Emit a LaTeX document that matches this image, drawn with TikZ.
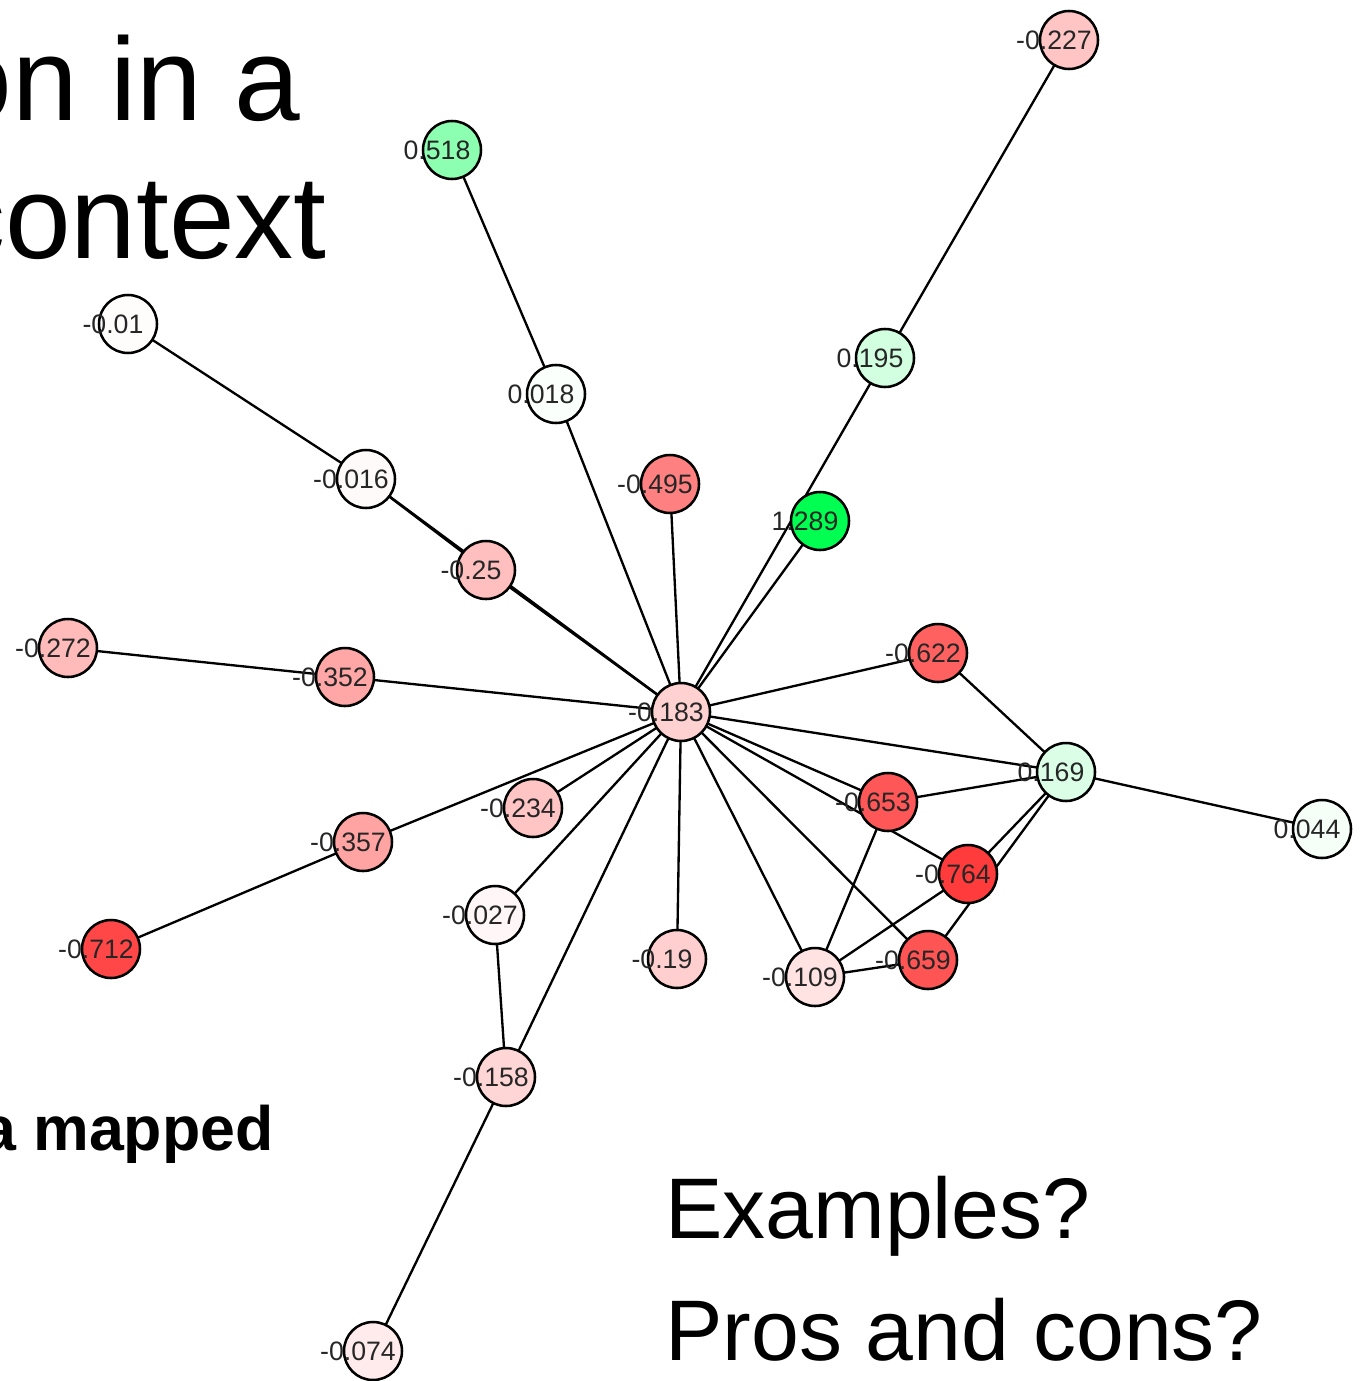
\documentclass[tikz,border=0pt]{standalone}
\usepackage{fontspec}
\setmainfont{Liberation Sans}
\usetikzlibrary{backgrounds}
\definecolor{vg}{RGB}{0,255,80}
\tikzset{
  vert/.style={circle, draw=black, line width=1.9pt, minimum size=43.5pt, inner sep=0pt},
  vlab/.style={inner sep=0pt, anchor=base, text=black!85, font=\fontsize{20}{21}\selectfont},
  edge/.style={draw=black, line width=1.75pt},
  bigtitle/.style={inner sep=0pt, anchor=base east, font=\fontsize{88.5}{90}\selectfont},
  boldtxt/.style={inner sep=0pt, anchor=base east, font=\fontsize{47}{48}\selectfont\bfseries},
  qtxt/.style={inner sep=0pt, anchor=base west, font=\fontsize{64.5}{66}\selectfont}
}
\newcommand\vtx[5]{%
  \node[vert, fill=#5] (#1) at (#2,#3) {};
  \node[vlab] (#1t) at (#2-15,#3+9.5) {#4};
}
\begin{document}
\begin{tikzpicture}[x=0.75pt,y=-0.75pt]
\useasboundingbox (0,0) rectangle (1363,1381);
\clip (0,0) rectangle (1363,1381);

% texts
\node[bigtitle] (t1) at (301,120) {on in a};
\node[bigtitle] (t2) at (327,258) {context};
\node[boldtxt] (t3) at (274,1150) {a mapped};
\node[qtxt] (t4) at (665,1238) {Examples?};
\node[qtxt] (t5) at (665,1360) {Pros and cons?};

% vertices
\vtx{n227}{1069}{40}{-0.227}{red!23!white}
\vtx{n518}{452}{150}{0.518}{vg!45!white}
\vtx{n195}{885}{358}{0.195}{vg!18!white}
\vtx{n01}{128}{324}{-0.01}{red!1!white}
\vtx{n018}{556}{394}{0.018}{vg!2!white}
\vtx{n016}{366}{479}{-0.016}{red!2!white}
\vtx{n495}{670}{484}{-0.495}{red!50!white}
\vtx{n289}{820}{521}{1.289}{vg}
\vtx{n25}{486}{570}{-0.25}{red!25!white}
\vtx{n272}{68}{648}{-0.272}{red!27!white}
\vtx{n352}{345}{677}{-0.352}{red!35!white}
\vtx{n622}{938}{653}{-0.622}{red!62!white}
\vtx{n183}{681}{712}{-0.183}{red!18!white}
\vtx{n169}{1066}{772}{0.169}{vg!14!white}
\vtx{n044}{1322}{829}{0.044}{vg!4!white}
\vtx{n653}{888}{802}{-0.653}{red!66!white}
\vtx{n234}{533}{808}{-0.234}{red!23!white}
\vtx{n357}{363}{842}{-0.357}{red!36!white}
\vtx{n764}{968}{874}{-0.764}{red!77!white}
\vtx{n027}{495}{915}{-0.027}{red!3!white}
\vtx{n712}{111}{949}{-0.712}{red!72!white}
\vtx{n19}{677}{959}{-0.19}{red!19!white}
\vtx{n109}{815}{977}{-0.109}{red!11!white}
\vtx{n659}{928}{960}{-0.659}{red!67!white}
\vtx{n158}{506}{1077}{-0.158}{red!16!white}
\vtx{n074}{373}{1351}{-0.074}{red!8!white}

% edges
\begin{scope}[on background layer]
\fill[white] (0,0) rectangle (1363,1381);
\foreach \a/\b in {n227/n195, n195/n183, n289/n183, n518/n018, n018/n183,
  n01/n016, n016/n25, n25/n183, n016/n183, n495/n183, n272/n352, n352/n183,
  n622/n183, n622/n169, n183/n169, n169/n044, n183/n653, n653/n169,
  n183/n764, n183/n659, n183/n109, n183/n19, n183/n234, n183/n357,
  n183/n027, n183/n158, n357/n712, n027/n158, n158/n074, n653/n109,
  n764/n109, n169/n764, n169/n659, n109/n659}
  \draw[edge] (\a.center) -- (\b.center);
\end{scope}
\end{tikzpicture}
\end{document}
